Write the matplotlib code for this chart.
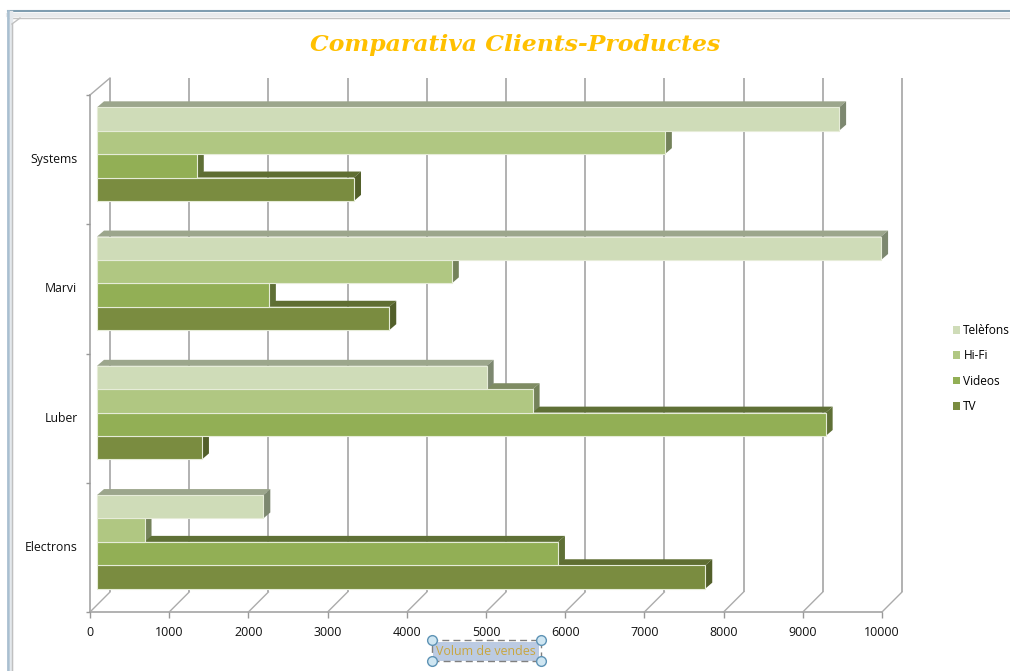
import matplotlib
matplotlib.use("Agg")
import matplotlib.pyplot as plt
from matplotlib.patches import Polygon, Rectangle, Patch
from matplotlib.lines import Line2D

W, H = 1010, 671
categories = ["Electrons", "Luber", "Marvi", "Systems"]
series_names = ["TV", "Videos", "Hi-Fi", "Telèfons"]
tv = [7680, 1325, 3690, 3245]
videos = [5820, 9200, 2170, 1260]
hifi = [600, 5500, 4480, 7170]
telefons = [2100, 4920, 9900, 9370]
series_values = [tv, videos, hifi, telefons]
front_cols = ["#7A8C40", "#92AF55", "#B0C782", "#CFDCB8"]
top_cols = ["#5F6E32", "#5F7036", "#7F8C63", "#9CA68C"]
side_cols = ["#525F2A", "#5F7036", "#74825A", "#7D8870"]
xticks = list(range(0, 11000, 1000))
title = "Comparativa Clients-Productes"
xlabel = "Volum de vendes"

L, R, T, B = 90, 882, 95, 612
GRID = "#ABABAB"
fig = plt.figure(figsize=(W / 100, H / 100), dpi=100, facecolor="white")
ax = fig.add_axes([L / W, 1 - B / H, (R - L) / W, (B - T) / H])
ax.set_xlim(0, 10000)
ax.set_ylim(0, 4)
ax.patch.set_alpha(0)
ux = 10000 / (R - L)   # value units per pixel
uy = 4 / (B - T)       # category units per pixel

# back wall + floor/side diagonals
WD = 20
for v in xticks:
    ax.plot([v + WD * ux] * 2, [WD * uy, 4 + 17 * uy], color=GRID, lw=1.3, clip_on=False, zorder=1, solid_capstyle="butt")
    ax.plot([v, v + WD * ux], [0, WD * uy], color=GRID, lw=1.0, clip_on=False, zorder=1)
ax.plot([0, WD * ux], [4, 4 + 17 * uy], color=GRID, lw=1.0, clip_on=False, zorder=1)

# bars with depth
BD_X, BD_Y = 7, 6
bar_h = 23.4 * uy
bar_dx = BD_X * ux
shift_y = 5.5 * uy
z = 2
for c in range(len(categories)):
    for s in range(len(series_names)):
        v = series_values[s][c]
        y0 = c + 0.5 + shift_y + (s - 2) * bar_h
        y1 = y0 + bar_h
        x0, x1 = bar_dx, bar_dx + v
        dx, dy = BD_X * ux, BD_Y * uy
        ax.add_patch(Polygon([(x0, y1), (x1, y1), (x1 + dx, y1 + dy), (x0 + dx, y1 + dy)],
                             fc=top_cols[s], ec="none", clip_on=False, zorder=z))
        ax.add_patch(Polygon([(x1, y0), (x1 + dx, y0 + dy), (x1 + dx, y1 + dy), (x1, y1)],
                             fc=side_cols[s], ec="none", clip_on=False, zorder=z))
        ax.barh(y0, v, left=x0, height=bar_h, align="edge", color=front_cols[s],
                edgecolor="#E6ECD8", linewidth=0.8, zorder=z + 0.5, clip_on=False)
        z += 1

# axes
for sp in ("top", "right"):
    ax.spines[sp].set_visible(False)
for sp in ("left", "bottom"):
    ax.spines[sp].set_color(GRID)
    ax.spines[sp].set_linewidth(1.3)
    ax.spines[sp].set_zorder(1)
ax.set_xticks(xticks)
ax.set_xticklabels([str(v) for v in xticks], fontsize=9, family="Open Sans", color="#111111")
ax.set_yticks(range(5))
ax.set_yticklabels([])
ax.set_yticks([i + 0.5 for i in range(4)], minor=True)
ax.set_yticklabels(categories, minor=True, fontsize=8.8, family="Open Sans", color="#111111", va="center")
ax.tick_params(axis="x", length=4, width=1, color="#999999", pad=6)
ax.tick_params(axis="y", which="major", length=3, width=1, color="#999999")
ax.tick_params(axis="y", which="minor", length=0, pad=9)

# selected axis title
ax.set_xlabel(xlabel, fontsize=8.9, family="Open Sans", color="#C9A63F", labelpad=4.5,
              bbox=dict(fc="#BCCBE2", ec="none", pad=2))

fig.text(515 / W, 1 - 44.5 / H, title, ha="center", va="center", fontsize=16.9,
         family="DejaVu Serif", weight="bold", style="italic", color="#FFC000")

# legend
handles = [Patch(fc=front_cols[i], ec="none", label=series_names[i]) for i in (3, 2, 1, 0)]
fig.legend(handles=handles, loc="center left", bbox_to_anchor=(953 / W, 1 - 368.5 / H), frameon=False,
           prop=dict(family="Open Sans", size=8.6), handlelength=0.62, handleheight=0.62, handletextpad=0.25,
           labelspacing=1.03, borderpad=0, borderaxespad=0.0)


def fx(x):
    return x / W


def fy(y):
    return 1 - y / H


# selection frame + handles
fig.add_artist(Rectangle((fx(432), fy(661)), 109 / W, 21 / H, fc="none", ec="#808080", lw=1, ls=(0, (5, 3)),
                         transform=fig.transFigure))
for px_, py_ in [(432, 640), (541, 640), (432, 661), (541, 661)]:
    fig.add_artist(Line2D([fx(px_)], [fy(py_)], marker="o", ms=7, mfc="#CFE6F2", mec="#5E93B5", mew=1,
                          transform=fig.transFigure))

# window chrome
chrome = [
    ([8, 1010], [11, 11], "#7F9DB0", 1.5),
    ([8, 1010], [14.5, 14.5], "#E8EAEC", 3),
    ([8, 1010], [17.5, 17.5], "#C4C4C4", 1),
    ([8, 8], [11, 671], "#A9BFD0", 2),
    ([10.5, 10.5], [12, 671], "#E4E8EC", 2.5),
    ([12, 12], [24, 671], "#C0C0C0", 1),
    ([12, 20], [24, 18], "#C0C0C0", 1),
]
for xs, ys, col, lw in chrome:
    fig.add_artist(Line2D([fx(x) for x in xs], [fy(y) for y in ys], color=col, lw=lw, transform=fig.transFigure))

fig.savefig("out.png", dpi=100)
